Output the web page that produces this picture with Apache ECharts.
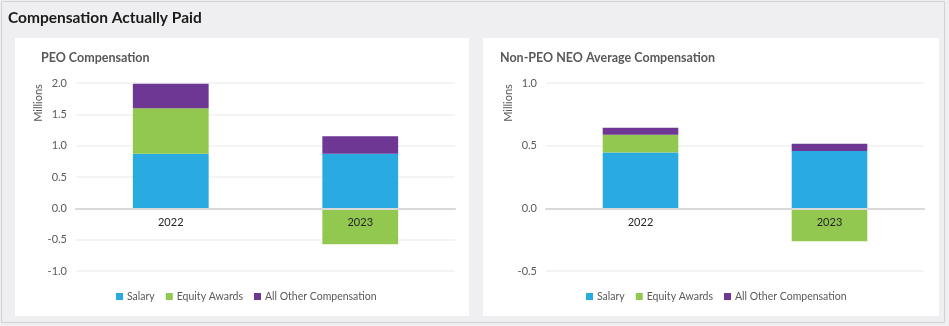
<!DOCTYPE html>
<html>
<head>
<meta charset="utf-8">
<script src="https://cdn.jsdelivr.net/npm/echarts@6/dist/echarts.min.js"></script>
<style>
  html, body { margin: 0; padding: 0; background: #efeff1; }
  #chart { width: 949px; height: 326px; }
</style>
</head>
<body>
<div id="chart"></div>
<script>
// Fiscal years on the category axis
const years = ['2022', '2023'];
const seriesNames = ['Salary', 'Equity Awards', 'All Other Compensation'];

// PEO compensation, in millions
const peoSalary = [0.872, 0.870];
const peoEquity = [0.725, -0.575];
const peoOther = [0.390, 0.280];

// Non-PEO NEO average compensation, in millions
const neoSalary = [0.446, 0.457];
const neoEquity = [0.142, -0.262];
const neoOther = [0.054, 0.059];

// Y axis ranges per panel
const peoAxis = { min: -1.0, max: 2.0, interval: 0.5 };
const neoAxis = { min: -0.5, max: 1.0, interval: 0.5 };

const colors = ['#29abe2', '#92c850', '#6e3793'];
const FONT = 'Lato, "Open Sans", sans-serif';

const GRID_H = 188;

const chart = echarts.init(document.getElementById('chart'), null, { renderer: 'canvas' });

function yAxisFor(idx, range) {
  return {
    type: 'value',
    gridIndex: idx,
    min: range.min,
    max: range.max,
    interval: range.interval,
    axisLine: { show: false },
    axisTick: { show: false },
    splitLine: { lineStyle: { color: '#f0f0f0', width: 1.5 } },
    axisLabel: {
      color: '#595959',
      fontFamily: FONT,
      fontSize: 11,
      margin: 9,
      formatter: v => v.toFixed(1)
    }
  };
}

// Category axis drawn along the zero line of its value axis
function xAxisFor(idx, range) {
  const zeroFromBottom = GRID_H * (0 - range.min) / (range.max - range.min);
  return {
    type: 'category',
    gridIndex: idx,
    data: years,
    z: 10,
    offset: -zeroFromBottom,
    axisLine: { onZero: false, lineStyle: { color: '#d9d9d9', width: 2 } },
    axisTick: { show: false },
    axisLabel: { color: '#262626', fontFamily: FONT, fontSize: 11, margin: 9 }
  };
}

function barSeries(idx, stackName, values) {
  return values.map((vals, i) => ({
    name: seriesNames[i],
    type: 'bar',
    xAxisIndex: idx,
    yAxisIndex: idx,
    stack: stackName,
    barWidth: '40%',
    data: vals,
    itemStyle: { color: colors[i] },
    emphasis: { disabled: true }
  }));
}

function legendFor(idx, left) {
  return {
    data: seriesNames,
    left: left,
    top: 286,
    icon: 'rect',
    itemWidth: 7,
    itemHeight: 7,
    itemGap: 11,
    textStyle: { color: '#595959', fontFamily: FONT, fontSize: 10.5, padding: [0, 0, 0, -1] },
    selectedMode: false
  };
}

const option = {
  backgroundColor: '#efeff1',
  animation: false,
  color: colors,
  title: [
    {
      text: 'Compensation Actually Paid',
      left: 3, top: 5,
      textStyle: { color: '#1a1a1a', fontFamily: FONT, fontSize: 15.5, fontWeight: 'bold' }
    },
    {
      text: 'PEO Compensation',
      left: 36, top: 46,
      textStyle: { color: '#595959', fontFamily: FONT, fontSize: 12.5, fontWeight: 'bold' }
    },
    {
      text: 'Non-PEO NEO Average Compensation',
      left: 495, top: 46,
      textStyle: { color: '#595959', fontFamily: FONT, fontSize: 12.5, fontWeight: 'bold' }
    }
  ],
  graphic: [
    { type: 'rect', z: -10, shape: { x: 1.5, y: 1.5, width: 943, height: 321 },
      style: { fill: '#efeff1', stroke: '#d2d2d4', lineWidth: 1 } },
    { type: 'rect', z: -9, shape: { x: 15, y: 38, width: 454, height: 278 }, style: { fill: '#ffffff' } },
    { type: 'rect', z: -9, shape: { x: 483, y: 38, width: 456, height: 278 }, style: { fill: '#ffffff' } },
    { type: 'text', z: 5, x: 38, y: 103, rotation: Math.PI / 2,
      style: { text: 'Millions', fill: '#595959', font: '11px ' + FONT, align: 'center', verticalAlign: 'middle' } },
    { type: 'text', z: 5, x: 508, y: 103, rotation: Math.PI / 2,
      style: { text: 'Millions', fill: '#595959', font: '11px ' + FONT, align: 'center', verticalAlign: 'middle' } }
  ],
  grid: [
    { left: 76, top: 83, width: 379, height: GRID_H },
    { left: 546, top: 83, width: 378, height: GRID_H }
  ],
  legend: [legendFor(0, 111), legendFor(1, 581)],
  xAxis: [xAxisFor(0, peoAxis), xAxisFor(1, neoAxis)],
  yAxis: [yAxisFor(0, peoAxis), yAxisFor(1, neoAxis)],
  series: [
    ...barSeries(0, 'peo', [peoSalary, peoEquity, peoOther]),
    ...barSeries(1, 'neo', [neoSalary, neoEquity, neoOther])
  ]
};

chart.setOption(option);
</script>
</body>
</html>
